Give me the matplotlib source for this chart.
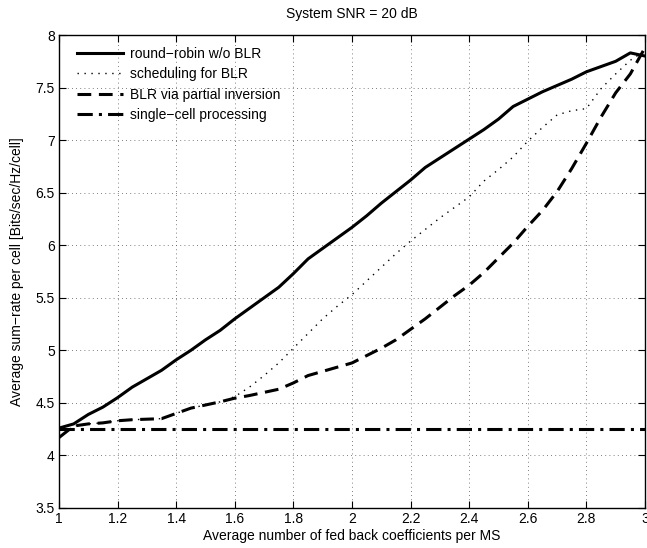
import matplotlib
matplotlib.use("Agg")
import matplotlib.pyplot as plt

plt.rcParams['font.family'] = ['Liberation Sans', 'DejaVu Sans']

x = [1.0, 1.05, 1.1, 1.15, 1.2, 1.25, 1.3, 1.35, 1.4, 1.45, 1.5, 1.55, 1.6, 1.65,
     1.7, 1.75, 1.8, 1.85, 1.9, 1.95, 2.0, 2.05, 2.1, 2.15, 2.2, 2.25, 2.3, 2.35,
     2.4, 2.45, 2.5, 2.55, 2.6, 2.65, 2.7, 2.75, 2.8, 2.85, 2.9, 2.95, 3.0]

round_robin = [4.26, 4.30, 4.39, 4.46, 4.55, 4.65, 4.73, 4.81, 4.91, 5.00, 5.10,
               5.19, 5.30, 5.40, 5.50, 5.60, 5.73, 5.87, 5.97, 6.07, 6.17, 6.28,
               6.40, 6.51, 6.62, 6.74, 6.83, 6.92, 7.01, 7.10, 7.20, 7.32, 7.39,
               7.46, 7.52, 7.58, 7.65, 7.70, 7.75, 7.83, 7.80]

partial_inv = [4.17, 4.28, 4.30, 4.31, 4.33, 4.34, 4.345, 4.35, 4.40, 4.45, 4.48,
               4.51, 4.545, 4.57, 4.60, 4.63, 4.69, 4.76, 4.80, 4.84, 4.88, 4.95,
               5.02, 5.10, 5.20, 5.30, 5.41, 5.52, 5.62, 5.74, 5.88, 6.02, 6.18,
               6.33, 6.51, 6.73, 6.97, 7.22, 7.45, 7.63, 7.88]

sched_blr = [4.17, 4.28, 4.30, 4.31, 4.33, 4.34, 4.345, 4.35, 4.40, 4.45, 4.48,
             4.51, 4.56, 4.65, 4.76, 4.88, 5.02, 5.16, 5.30, 5.42, 5.53, 5.66,
             5.79, 5.92, 6.04, 6.15, 6.26, 6.36, 6.46, 6.61, 6.72, 6.84, 6.99,
             7.12, 7.24, 7.28, 7.30, 7.49, 7.63, 7.76, 7.85]

single_cell = [4.25] * len(x)

labels = ['round\u2212robin w/o BLR', 'scheduling for BLR',
          'BLR via partial inversion', 'single\u2212cell processing']

fig = plt.figure(figsize=(6.47, 5.48), dpi=100)
ax = fig.add_axes([0.0912, 0.0730, 0.9057, 0.8631])

ax.plot(x, round_robin, color='black', lw=2.2, label=labels[0])
ax.plot(x, sched_blr, color='black', lw=1.0, linestyle=(0, (1, 4)), label=labels[1])
ax.plot(x, partial_inv, color='black', lw=2.2, linestyle=(0, (4.5, 2.5)), label=labels[2])
ax.plot(x, single_cell, color='black', lw=2.2, linestyle=(0, (5, 2, 1, 2)), label=labels[3])

ax.set_xlim(1, 3)
ax.set_ylim(3.5, 8)
ax.set_xticks([1, 1.2, 1.4, 1.6, 1.8, 2, 2.2, 2.4, 2.6, 2.8, 3])
ax.set_xticklabels(['1', '1.2', '1.4', '1.6', '1.8', '2', '2.2', '2.4', '2.6', '2.8', '3'])
ax.set_yticks([3.5, 4, 4.5, 5, 5.5, 6, 6.5, 7, 7.5, 8])
ax.set_yticklabels(['3.5', '4', '4.5', '5', '5.5', '6', '6.5', '7', '7.5', '8'])
ax.tick_params(direction='in', top=True, right=True, labelsize=10, length=5, width=0.8, pad=3)
ax.grid(True, linestyle=(0, (1, 4)), color='#555555', lw=0.6)
for s in ax.spines.values():
    s.set_linewidth(1.0)

ax.set_title('System SNR = 20 dB', fontsize=10, pad=12)
ax.set_xlabel('Average number of fed back coefficients per MS', fontsize=10, labelpad=2)
ax.set_ylabel('Average sum\u2212rate per cell [Bits/sec/Hz/cell]', fontsize=10, labelpad=8)

leg = ax.legend(loc='upper left', bbox_to_anchor=(0.01, 1.002), frameon=False,
                fontsize=10, handlelength=3.3, labelspacing=0.47, handletextpad=0.5)

fig.savefig('out.png', dpi=100)
